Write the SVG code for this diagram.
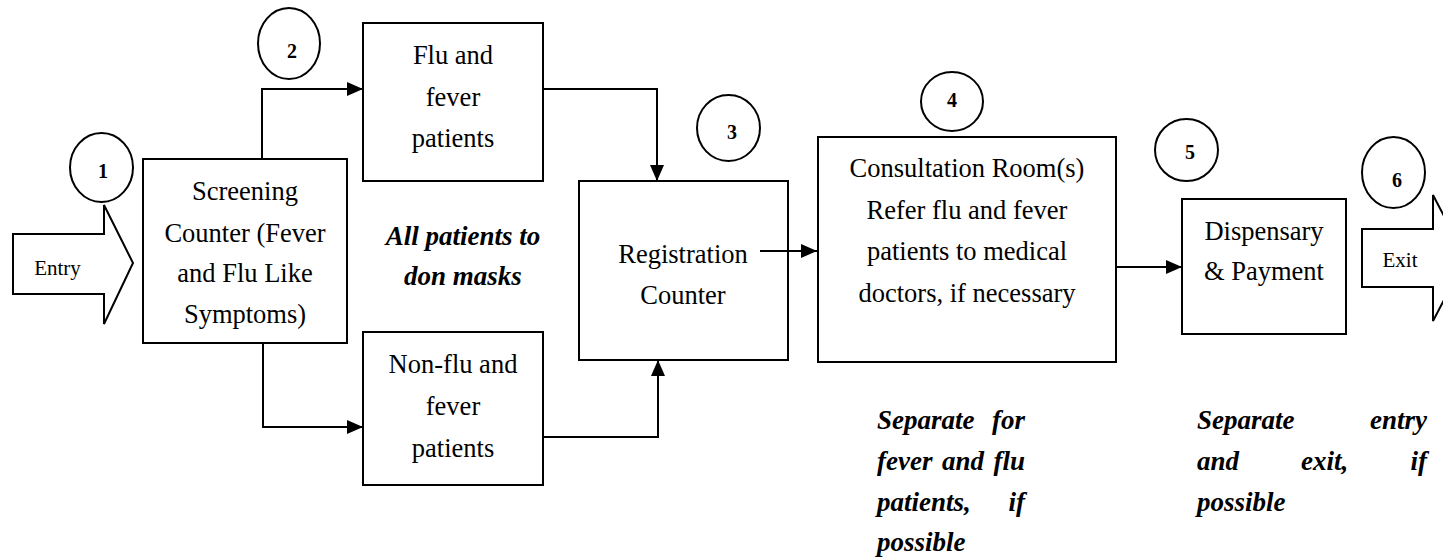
<svg xmlns="http://www.w3.org/2000/svg" width="1443" height="559" viewBox="0 0 1443 559">
<style>
.box{fill:#fff;stroke:#000;stroke-width:2}
.circ{fill:#fff;stroke:#000;stroke-width:2}
.ln{fill:none;stroke:#000;stroke-width:2}
text{font-family:'Liberation Serif','DejaVu Serif',serif;fill:#000}
.t{font-size:26.5px;text-anchor:middle}
.s{font-size:21px;text-anchor:middle}
.n{font-size:20px;font-weight:bold;text-anchor:middle}
.bi{font-size:27px;font-weight:bold;font-style:italic}
</style>
<defs>
<marker id="ah" markerUnits="userSpaceOnUse" markerWidth="16" markerHeight="14" refX="16" refY="7" orient="auto">
<path d="M0,0 L16,7 L0,14 Z" fill="#000"/>
</marker>
</defs>
<g id="connectors">
<path class="ln" d="M262,159 V89 H363" marker-end="url(#ah)"/>
<path class="ln" d="M263,343 V427 H363" marker-end="url(#ah)"/>
<path class="ln" d="M543,89 H657 V181" marker-end="url(#ah)"/>
<path class="ln" d="M543,437 H658 V360" marker-end="url(#ah)"/>
<path class="ln" d="M1116,267 H1182" marker-end="url(#ah)"/>
</g>
<g id="entry">
<polygon class="box" points="13,234 104,234 104,205 133,263 104,324 104,294 13,294"/>
<text class="s" x="57.5" y="275">Entry</text>
</g>
<g id="c1"><ellipse class="circ" cx="101.5" cy="167.5" rx="31.5" ry="34.5"/><text class="n" x="103" y="178">1</text></g>
<g id="screening">
<rect class="box" x="143" y="159" width="204" height="184"/>
<text class="t" x="245" y="200">Screening</text>
<text class="t" x="245" y="242">Counter (Fever</text>
<text class="t" x="245" y="282">and Flu Like</text>
<text class="t" x="245" y="323">Symptoms)</text>
</g>
<g id="c2"><ellipse class="circ" cx="289" cy="43.5" rx="31" ry="35.5"/><text class="n" x="292" y="58">2</text></g>
<g id="flu">
<rect class="box" x="363" y="23" width="180" height="158"/>
<text class="t" x="453" y="64">Flu and</text>
<text class="t" x="453" y="106">fever</text>
<text class="t" x="453" y="147">patients</text>
</g>
<g id="nonflu">
<rect class="box" x="363" y="332" width="180" height="153"/>
<text class="t" x="453" y="373">Non-flu and</text>
<text class="t" x="453" y="415">fever</text>
<text class="t" x="453" y="457">patients</text>
</g>
<g id="masks">
<text class="bi" x="463" y="245" text-anchor="middle">All patients to</text>
<text class="bi" x="463" y="285" text-anchor="middle">don masks</text>
</g>
<g id="c3"><ellipse class="circ" cx="728.5" cy="128" rx="31.5" ry="33"/><text class="n" x="732" y="139">3</text></g>
<g id="registration">
<rect class="box" x="579" y="181" width="209" height="179"/>
<text class="t" x="683" y="263">Registration</text>
<text class="t" x="683" y="304">Counter</text>
</g>
<g id="connector-reg"><path class="ln" d="M760,251 H817" marker-end="url(#ah)"/></g>
<g id="c4"><ellipse class="circ" cx="952" cy="101.5" rx="31" ry="29.5"/><text class="n" x="952" y="107">4</text></g>
<g id="consultation">
<rect class="box" x="818" y="137" width="298" height="225"/>
<text class="t" x="967" y="177">Consultation Room(s)</text>
<text class="t" x="967" y="219">Refer flu and fever</text>
<text class="t" x="967" y="260">patients to medical</text>
<text class="t" x="967" y="302">doctors, if necessary</text>
</g>
<g id="note1">
<text class="bi" x="877" y="429">Separate</text><text class="bi" x="1025" y="429" text-anchor="end">for</text>
<text class="bi" x="877" y="470">fever</text><text class="bi" x="942" y="470">and</text><text class="bi" x="1025" y="470" text-anchor="end">flu</text>
<text class="bi" x="877" y="511">patients,</text><text class="bi" x="1025" y="511" text-anchor="end">if</text>
<text class="bi" x="877" y="551">possible</text>
</g>
<g id="c5"><ellipse class="circ" cx="1186.5" cy="150" rx="31.5" ry="31"/><text class="n" x="1190" y="159">5</text></g>
<g id="dispensary">
<rect class="box" x="1182" y="199" width="164" height="135"/>
<text class="t" x="1264" y="240">Dispensary</text>
<text class="t" x="1264" y="280">&amp; Payment</text>
</g>
<g id="note2">
<text class="bi" x="1197" y="429">Separate</text><text class="bi" x="1427" y="429" text-anchor="end">entry</text>
<text class="bi" x="1197" y="470">and</text><text class="bi" x="1301" y="470">exit,</text><text class="bi" x="1427" y="470" text-anchor="end">if</text>
<text class="bi" x="1197" y="511">possible</text>
</g>
<g id="c6"><ellipse class="circ" cx="1393.5" cy="172.5" rx="31.5" ry="35.5"/><text class="n" x="1397" y="187">6</text></g>
<g id="exit">
<polygon class="box" points="1362,229 1433,229 1433,195 1466,258 1433,321 1433,287 1362,287"/>
<text class="s" x="1400" y="267">Exit</text>
</g>
</svg>
